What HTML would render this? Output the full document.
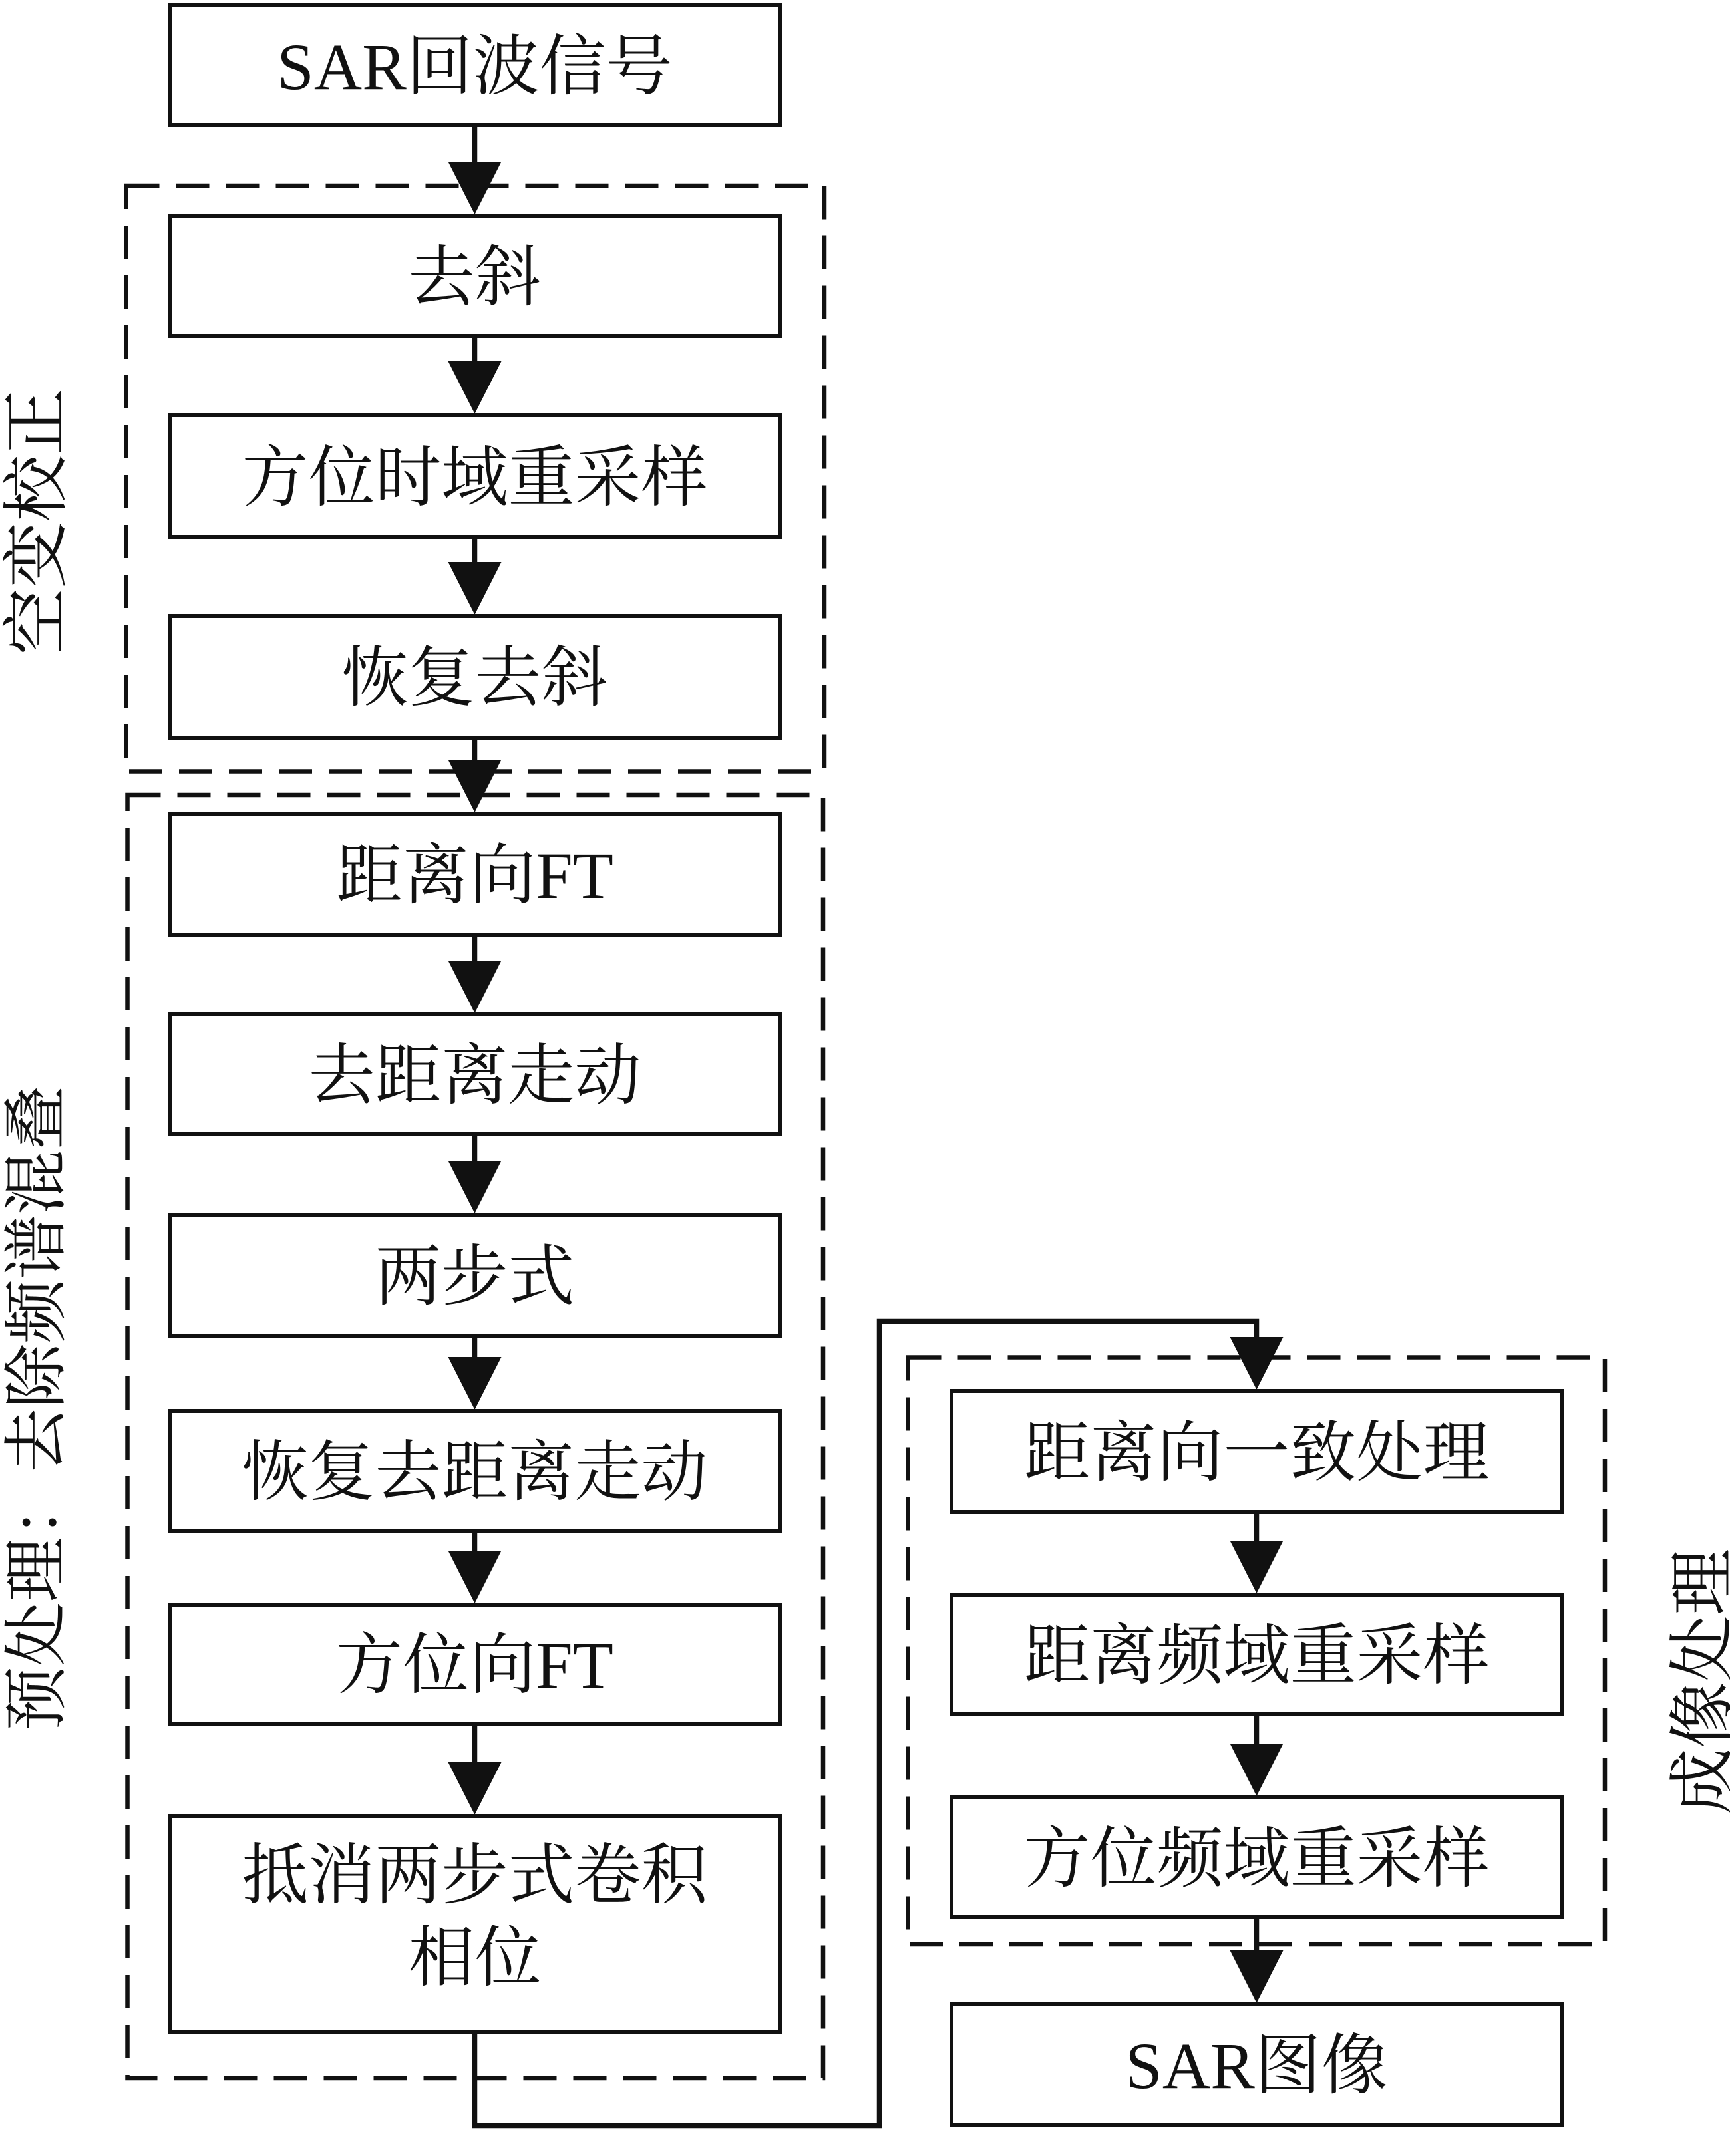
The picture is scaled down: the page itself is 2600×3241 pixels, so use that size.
<!DOCTYPE html>
<html>
<head>
<meta charset="utf-8">
<style>
html,body{margin:0;padding:0;background:#fff;}
svg{display:block;}
text{font-family:"Liberation Serif","Noto Serif CJK SC","Noto Sans CJK SC",serif;font-size:100px;fill:#111;}
</style>
</head>
<body>
<svg width="2600" height="3241" viewBox="0 0 2600 3241" xmlns="http://www.w3.org/2000/svg">
<rect x="0" y="0" width="2600" height="3241" fill="#fff"/>

<!-- dashed group rectangles -->
<g fill="none" stroke="#111" stroke-width="6.5" stroke-dasharray="50 25">
  <rect x="189.5" y="279" width="1049.5" height="880.5"/>
  <rect x="191.5" y="1195" width="1045.5" height="1929"/>
  <rect x="1364.5" y="2040.5" width="1047.5" height="882.5"/>
</g>

<!-- connectors / shafts -->
<g stroke="#111" stroke-width="7.5" fill="none" stroke-linejoin="miter" stroke-linecap="butt">
  <line x1="713.5" y1="191" x2="713.5" y2="245"/>
  <line x1="713.5" y1="508" x2="713.5" y2="545"/>
  <line x1="713.5" y1="810" x2="713.5" y2="847"/>
  <line x1="713.5" y1="1112" x2="713.5" y2="1144"/>
  <line x1="713.5" y1="1408" x2="713.5" y2="1446"/>
  <line x1="713.5" y1="1708" x2="713.5" y2="1747"/>
  <line x1="713.5" y1="2011" x2="713.5" y2="2042"/>
  <line x1="713.5" y1="2304" x2="713.5" y2="2333"/>
  <line x1="713.5" y1="2594" x2="713.5" y2="2651"/>
  <polyline points="713.5,3057 713.5,3195.5 1321.5,3195.5 1321.5,1986.5 1888.5,1986.5 1888.5,2012"/>
  <line x1="1888.5" y1="2276" x2="1888.5" y2="2318"/>
  <line x1="1888.5" y1="2580" x2="1888.5" y2="2623"/>
  <line x1="1888.5" y1="2885" x2="1888.5" y2="2934"/>
</g>

<!-- arrowheads -->
<g fill="#111">
  <polygon points="673.5,243 753.5,243 713.5,322"/>
  <polygon points="673.5,543 753.5,543 713.5,622"/>
  <polygon points="673.5,845 753.5,845 713.5,924"/>
  <polygon points="673.5,1142 753.5,1142 713.5,1221"/>
  <polygon points="673.5,1444 753.5,1444 713.5,1523"/>
  <polygon points="673.5,1745 753.5,1745 713.5,1824"/>
  <polygon points="673.5,2040 753.5,2040 713.5,2119"/>
  <polygon points="673.5,2331 753.5,2331 713.5,2410"/>
  <polygon points="673.5,2649 753.5,2649 713.5,2728"/>
  <polygon points="1848.5,2010 1928.5,2010 1888.5,2089"/>
  <polygon points="1848.5,2316 1928.5,2316 1888.5,2395"/>
  <polygon points="1848.5,2621 1928.5,2621 1888.5,2700"/>
  <polygon points="1848.5,2932 1928.5,2932 1888.5,3011"/>
</g>

<!-- boxes -->
<g fill="#fff" stroke="#111" stroke-width="6">
  <rect x="255" y="7" width="917" height="181"/>
  <rect x="255" y="324" width="917" height="181"/>
  <rect x="255" y="624" width="917" height="183"/>
  <rect x="255" y="926" width="917" height="183"/>
  <rect x="255" y="1223" width="917" height="182"/>
  <rect x="255" y="1525" width="917" height="180"/>
  <rect x="255" y="1826" width="917" height="182"/>
  <rect x="255" y="2121" width="917" height="180"/>
  <rect x="255" y="2412" width="917" height="179"/>
  <rect x="255" y="2730" width="917" height="324"/>

  <rect x="1430" y="2091" width="917" height="182"/>
  <rect x="1430" y="2397" width="917" height="180"/>
  <rect x="1430" y="2702" width="917" height="180"/>
  <rect x="1430" y="3013" width="917" height="181"/>
</g>

<!-- box labels -->
<g text-anchor="middle">
  <text x="713.5" y="134">SAR回波信号</text>
  <text x="713.5" y="451">去斜</text>
  <text x="713.5" y="752">方位时域重采样</text>
  <text x="713.5" y="1053">恢复去斜</text>
  <text x="713.5" y="1350">距离向FT</text>
  <text x="713.5" y="1651">去距离走动</text>
  <text x="713.5" y="1953">两步式</text>
  <text x="713.5" y="2247">恢复去距离走动</text>
  <text x="713.5" y="2537">方位向FT</text>
  <text x="713.5" y="2853">抵消两步式卷积</text>
  <text x="713.5" y="2977">相位</text>

  <text x="1888.5" y="2218">距离向一致处理</text>
  <text x="1888.5" y="2523">距离频域重采样</text>
  <text x="1888.5" y="2828">方位频域重采样</text>
  <text x="1888.5" y="3139">SAR图像</text>
</g>

<!-- vertical group labels -->
<g text-anchor="middle">
  <text transform="translate(53,784) rotate(-90)" x="0" y="36">空变校正</text>
  <text transform="translate(52,2117) rotate(-90)" x="0" y="36" style="font-size:97px">预处理：去除频谱混叠</text>
  <text transform="translate(2557,2528) rotate(-90)" x="0" y="36">成像处理</text>
</g>
</svg>
</body>
</html>
